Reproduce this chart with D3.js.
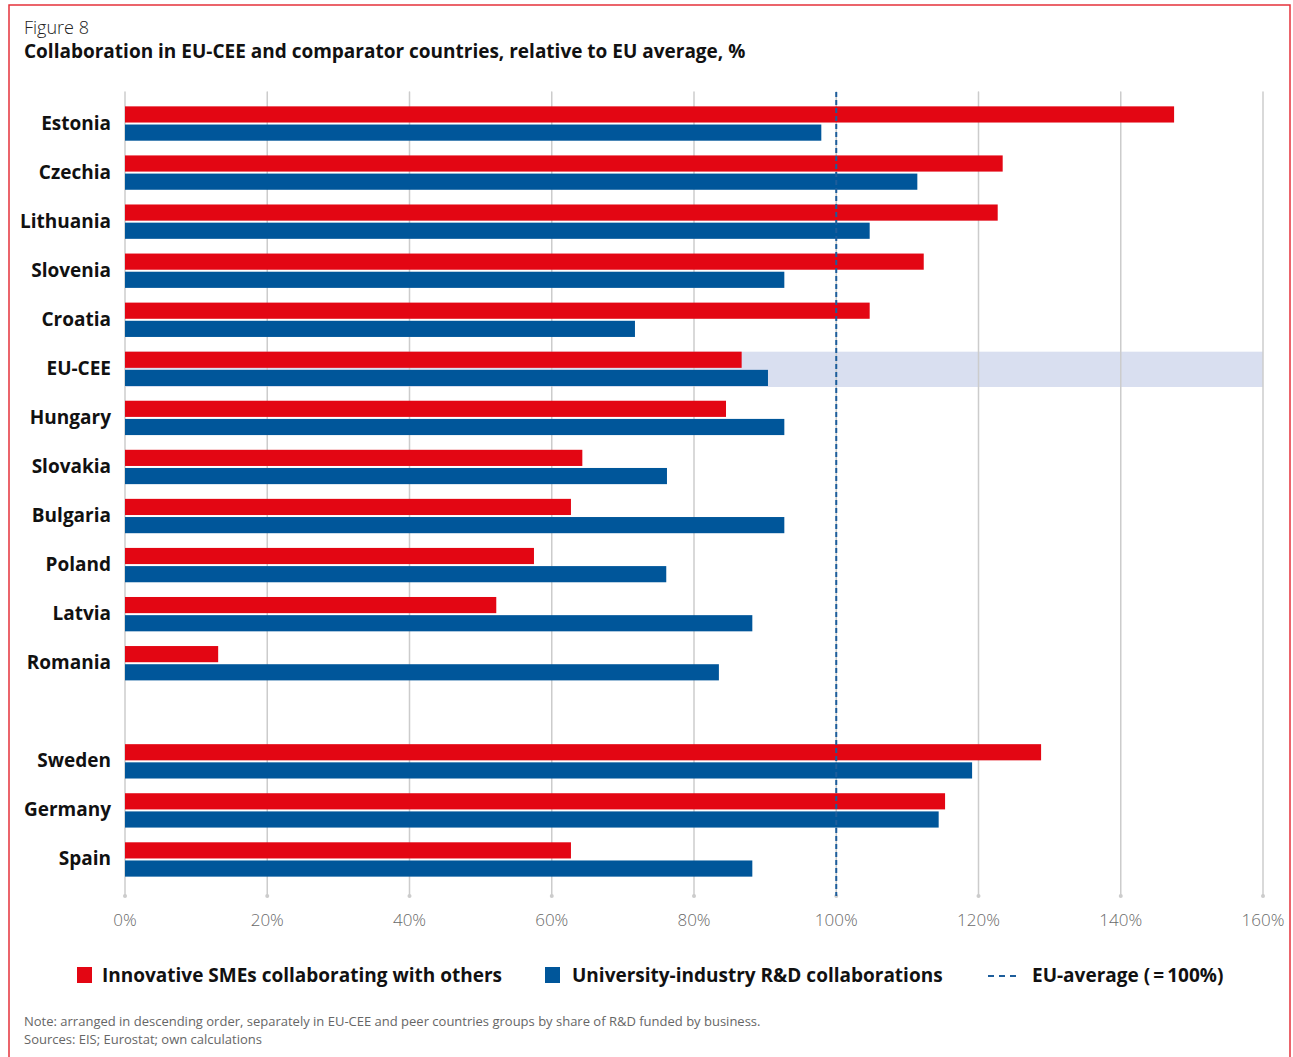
<!DOCTYPE html>
<html>
<head>
<meta charset="utf-8">
<script src="https://cdn.jsdelivr.net/npm/d3@7"></script>
<style>
  html, body { margin: 0; padding: 0; background: #fff; }
  svg { display: block; font-family: "Open Sans", "Noto Sans", sans-serif; }
</style>
</head>
<body>
<div id="chart"></div>
<script>
// data
const ceeCountries = ['Estonia', 'Czechia', 'Lithuania', 'Slovenia', 'Croatia', 'EU-CEE', 'Hungary',
  'Slovakia', 'Bulgaria', 'Poland', 'Latvia', 'Romania'];
const peerCountries = ['Sweden', 'Germany', 'Spain'];
const smeValues = [147.5, 123.4, 122.7, 112.3, 104.7, 86.7, 84.5, 64.3, 62.7, 57.5, 52.2, 13.1, 128.8, 115.3, 62.7];
const uniValues = [97.9, 111.4, 104.7, 92.7, 71.7, 90.4, 92.7, 76.2, 92.7, 76.1, 88.2, 83.5, 119.1, 114.4, 88.2];
const xTicks = [0, 20, 40, 60, 80, 100, 120, 140, 160];
const highlight = 'EU-CEE';
const euAverage = 100;

const seriesNames = ['Innovative SMEs collaborating with others', 'University-industry R&D collaborations'];
const legendLine = 'EU-average (\u2009=\u2009100%)';

const countries = [...ceeCountries, ...peerCountries];
const rows = countries.map((c, i) => ({ name: c, sme: smeValues[i], uni: uniValues[i] }));

const W = 1293, H = 1057;
const red = '#e30613', blue = '#00569a';
const margin = { left: 125, right: 1263, top: 99, bottom: 884 };

const svg = d3.select('#chart').append('svg').attr('width', W).attr('height', H);

// frame
svg.append('rect')
  .attr('x', 9).attr('y', 5).attr('width', 1281).attr('height', 1060)
  .attr('fill', 'none').attr('stroke', '#e5323b').attr('stroke-width', 1.5);

// titles
svg.append('text').attr('x', 24).attr('y', 34).attr('font-size', 18).attr('font-weight', 300)
  .attr('fill', '#222').text('Figure 8');
svg.append('text').attr('x', 24).attr('y', 58).attr('font-size', 19).attr('font-weight', 700)
  .attr('fill', '#111').text('Collaboration in EU-CEE and comparator countries, relative to EU average, %');

// scales
const x = d3.scaleLinear().domain([0, 160]).range([margin.left, margin.right]);
const yDomain = [...ceeCountries, '__gap__', ...peerCountries];
const y = d3.scaleBand().domain(yDomain).range([margin.top, margin.bottom]).paddingInner(0.3).paddingOuter(0.15);
const bh = y.bandwidth();

// highlight band
svg.append('rect')
  .attr('x', x(0)).attr('y', y(highlight))
  .attr('width', x(160) - x(0)).attr('height', bh + 1)
  .attr('fill', '#d9dff0');

// grid
const grid = svg.append('g');
grid.selectAll('line').data(xTicks).enter().append('line')
  .attr('x1', d => x(d)).attr('x2', d => x(d))
  .attr('y1', 92).attr('y2', 896)
  .attr('stroke', '#cccccc').attr('stroke-width', 1.5).attr('stroke-linecap', 'round');
grid.selectAll('circle').data(xTicks).enter().append('circle')
  .attr('cx', d => x(d)).attr('cy', 896).attr('r', 2).attr('fill', '#cccccc');

// axis labels
svg.append('g').selectAll('text').data(xTicks).enter().append('text')
  .attr('x', d => x(d)).attr('y', 926)
  .attr('text-anchor', 'middle').attr('font-size', 17).attr('font-weight', 300)
  .attr('fill', '#6a6a6a').text(d => d + '%');

// bars
const g = svg.append('g').selectAll('g').data(rows).enter().append('g')
  .attr('transform', d => `translate(0,${y(d.name)})`);
const half = (bh - 2) / 2;
g.append('rect').attr('x', x(0)).attr('y', 0)
  .attr('width', d => x(d.sme) - x(0)).attr('height', half).attr('fill', red);
g.append('rect').attr('x', x(0)).attr('y', half + 2)
  .attr('width', d => x(d.uni) - x(0)).attr('height', half).attr('fill', blue);
g.append('text').attr('x', 111).attr('y', bh / 2 + 6)
  .attr('text-anchor', 'end').attr('font-size', 19).attr('font-weight', 700)
  .attr('fill', '#111').text(d => d.name);

// EU average
svg.append('line')
  .attr('x1', x(euAverage)).attr('x2', x(euAverage)).attr('y1', 92).attr('y2', 896)
  .attr('stroke', '#1d5d9b').attr('stroke-width', 2).attr('stroke-dasharray', '5,3');

// legend
const lg = svg.append('g');
lg.append('rect').attr('x', 77).attr('y', 967).attr('width', 15).attr('height', 16).attr('fill', red);
lg.append('text').attr('x', 102).attr('y', 982).attr('font-size', 19).attr('font-weight', 700)
  .attr('fill', '#111').text(seriesNames[0]);
lg.append('rect').attr('x', 545).attr('y', 967).attr('width', 15).attr('height', 16).attr('fill', blue);
lg.append('text').attr('x', 572).attr('y', 982).attr('font-size', 19).attr('font-weight', 700)
  .attr('fill', '#111').text(seriesNames[1]);
lg.append('line').attr('x1', 988).attr('x2', 1019).attr('y1', 976).attr('y2', 976)
  .attr('stroke', '#1d5d9b').attr('stroke-width', 2).attr('stroke-dasharray', '6,5');
lg.append('text').attr('x', 1032).attr('y', 982).attr('font-size', 19).attr('font-weight', 700)
  .attr('fill', '#111').text(legendLine);

// notes
svg.append('text').attr('x', 24).attr('y', 1026).attr('font-size', 13).attr('fill', '#666')
  .text('Note: arranged in descending order, separately in EU-CEE and peer countries groups by share of R&D funded by business.');
svg.append('text').attr('x', 24).attr('y', 1044).attr('font-size', 13).attr('fill', '#666')
  .text('Sources: EIS; Eurostat; own calculations');
</script>
</body>
</html>
